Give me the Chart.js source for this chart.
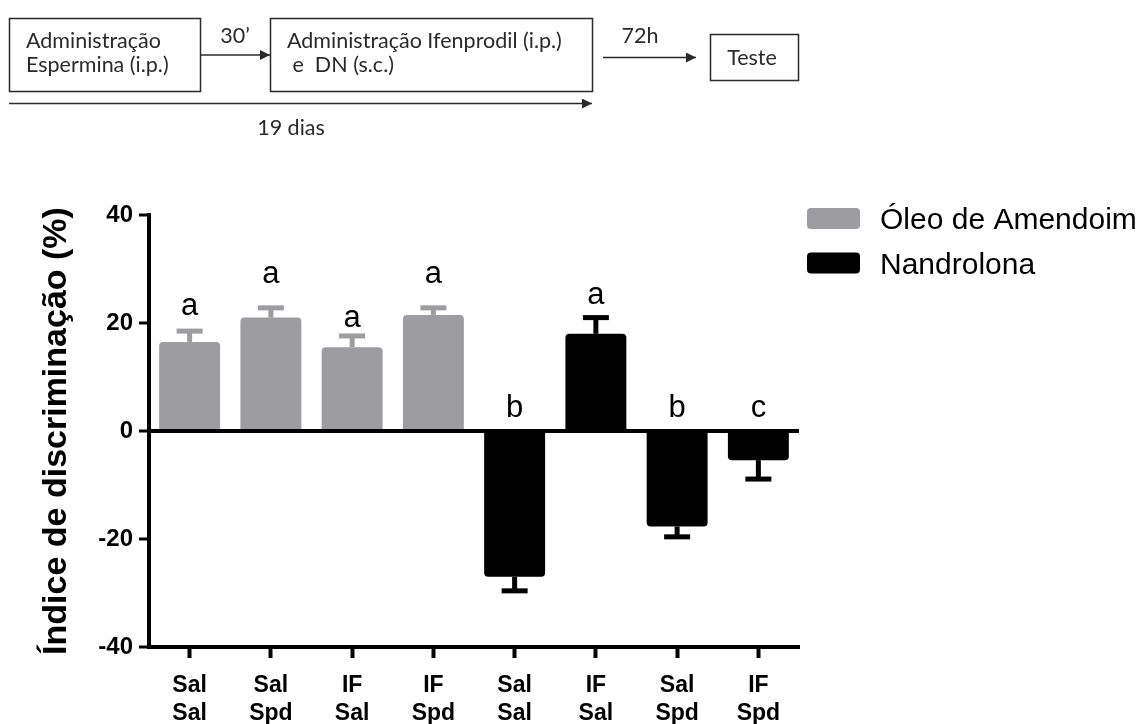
<!DOCTYPE html>
<html><head><meta charset="utf-8">
<script src="https://cdn.jsdelivr.net/npm/chart.js@4/dist/chart.umd.min.js"></script>
<style>
html,body{margin:0;padding:0;background:#fff;width:1146px;height:724px;overflow:hidden;}
#wrap{position:absolute;left:0;top:0;width:1146px;height:724px;}
#diagram{position:absolute;left:0;top:0;}
#diagram text{font-family:Lato,"Open Sans",sans-serif;font-size:21.5px;fill:#2a2a2a;}
</style></head><body>
<div id="wrap"><canvas id="c" width="1146" height="724"></canvas></div>
<svg id="diagram" width="820" height="150">
  <defs>
    <marker id="ah" viewBox="0 0 10 10" refX="10" refY="5" markerWidth="11" markerHeight="10" markerUnits="userSpaceOnUse" orient="auto">
      <path d="M0,0 L10,5 L0,10 z" fill="#2a2a2a"/>
    </marker>
  </defs>
  <rect x="9.5" y="18.5" width="191" height="73" fill="none" stroke="#2a2a2a" stroke-width="1.5"/>
  <text x="26" y="48">Administração</text>
  <text x="26" y="71.5">Espermina (i.p.)</text>
  <line x1="201" y1="55" x2="270" y2="55" stroke="#2a2a2a" stroke-width="1.5" marker-end="url(#ah)"/>
  <text x="235" y="43" text-anchor="middle">30’</text>
  <rect x="270.5" y="18.5" width="322" height="73" fill="none" stroke="#2a2a2a" stroke-width="1.5"/>
  <text x="287" y="48">Administração Ifenprodil (i.p.)</text>
  <text x="287" y="71.5" xml:space="preserve"> e  DN (s.c.)</text>
  <line x1="9" y1="103.5" x2="592" y2="103.5" stroke="#2a2a2a" stroke-width="1.5" marker-end="url(#ah)"/>
  <text x="291" y="135" text-anchor="middle">19 dias</text>
  <text x="640" y="43" text-anchor="middle">72h</text>
  <line x1="603" y1="57.5" x2="696" y2="57.5" stroke="#2a2a2a" stroke-width="1.5" marker-end="url(#ah)"/>
  <rect x="710.5" y="34.5" width="88" height="46" fill="none" stroke="#2a2a2a" stroke-width="1.5"/>
  <text x="752" y="65" text-anchor="middle">Teste</text>
</svg>
<script>
const categories = [['Sal','Sal'],['Sal','Spd'],['IF','Sal'],['IF','Spd'],['Sal','Sal'],['IF','Sal'],['Sal','Spd'],['IF','Spd']];
const seriesNames = ['Óleo de Amendoim','Nandrolona'];
const oleoValues = [16.5, 21.0, 15.5, 21.5, null, null, null, null];
const oleoErrors = [2.0, 1.8, 2.1, 1.3, null, null, null, null];
const nandValues = [null, null, null, null, -27.0, 18.0, -17.7, -5.4];
const nandErrors = [null, null, null, null, 2.6, 3.0, 1.9, 3.5];
const letters = ['a','a','a','a','b','a','b','c'];
const letterY = [21.5, 27.4, 19.3, 27.4, 2.6, 23.6, 2.6, 2.6];
const yTicks = [-40, -20, 0, 20, 40];
const yTitle = 'Índice de discriminação (%)';

const GRAY = '#9d9da1';
const BLACK = '#000000';

const overlay = {
  id: 'overlay',
  afterDatasetsDraw(chart) {
    const ctx = chart.ctx, xs = chart.scales.x, ys = chart.scales.y;
    const errs = [oleoErrors, nandErrors];
    chart.data.datasets.forEach((ds, di) => {
      ds.data.forEach((v, i) => {
        if (v === null || errs[di][i] === null) return;
        const x = xs.getPixelForValue(i);
        const y0 = ys.getPixelForValue(v);
        const y1 = ys.getPixelForValue(v + Math.sign(v) * errs[di][i]);
        ctx.save();
        ctx.strokeStyle = ds.backgroundColor;
        ctx.lineWidth = 5;
        ctx.beginPath(); ctx.moveTo(x, y0); ctx.lineTo(x, y1); ctx.stroke();
        ctx.beginPath(); ctx.moveTo(x - 13, y1); ctx.lineTo(x + 13, y1); ctx.stroke();
        ctx.restore();
      });
    });
    ctx.save();
    ctx.fillStyle = '#000';
    ctx.font = '31px "Liberation Sans", Arial, sans-serif';
    ctx.textAlign = 'center';
    ctx.textBaseline = 'alphabetic';
    letters.forEach((t, i) => {
      ctx.fillText(t, xs.getPixelForValue(i), ys.getPixelForValue(letterY[i]));
    });
    ctx.restore();
  },
  afterDraw(chart) {
    const ctx = chart.ctx, ca = chart.chartArea;
    ctx.save();
    ctx.font = '30px "Liberation Sans", Arial, sans-serif';
    ctx.textBaseline = 'alphabetic';
    ctx.textAlign = 'left';
    chart.data.datasets.forEach((ds, di) => {
      const top = ca.top - 7 + di * 44.5;
      ctx.fillStyle = ds.backgroundColor;
      ctx.beginPath();
      ctx.roundRect(ca.right + 8, top, 53, 21, 4);
      ctx.fill();
      ctx.fillStyle = '#000';
      ctx.fillText(ds.label, ca.right + 81, top + 21);
    });
    ctx.restore();
  }
};

new Chart(document.getElementById('c'), {
  type: 'bar',
  data: {
    labels: categories,
    datasets: [
      { label: seriesNames[0], data: oleoValues, backgroundColor: GRAY, borderRadius: 4 },
      { label: seriesNames[1], data: nandValues, backgroundColor: BLACK, borderRadius: 4 }
    ]
  },
  options: {
    responsive: false,
    animation: false,
    devicePixelRatio: 1,
    skipNull: true,
    barPercentage: 0.75,
    categoryPercentage: 1,
    layout: { padding: { left: 36, top: 215, right: 347, bottom: 0 } },
    plugins: { legend: { display: false }, tooltip: { enabled: false } },
    scales: {
      x: {
        grid: { drawOnChartArea: false, offset: false, tickLength: 11, tickWidth: 4, tickColor: '#000' },
        border: { display: true, color: '#000', width: 4 },
        ticks: { color: '#000', font: { family: '"Liberation Sans", Arial, sans-serif', weight: 'bold', size: 23, lineHeight: 1.22 }, padding: 14, maxRotation: 0, autoSkip: false },
        afterFit(s) { s.height = 77; }
      },
      y: {
        min: -40, max: 40,
        afterBuildTicks(s) { s.ticks = yTicks.map(v => ({ value: v })); },
        grid: { color: c => (c.tick && c.tick.value === 0) ? '#000' : 'rgba(0,0,0,0)', lineWidth: 4, tickColor: '#000', tickLength: 10, tickWidth: 3 },
        border: { display: true, color: '#000', width: 4 },
        ticks: { color: '#000', font: { family: '"Liberation Sans", Arial, sans-serif', weight: 'bold', size: 24 }, padding: 6 },
        title: { display: true, text: yTitle, color: '#000', font: { family: '"Liberation Sans", Arial, sans-serif', weight: 'bold', size: 34 }, padding: { top: 0, bottom: 0 } },
        afterFit(s) { s.width = 113; }
      }
    }
  },
  plugins: [overlay]
});
</script>
</body></html>
